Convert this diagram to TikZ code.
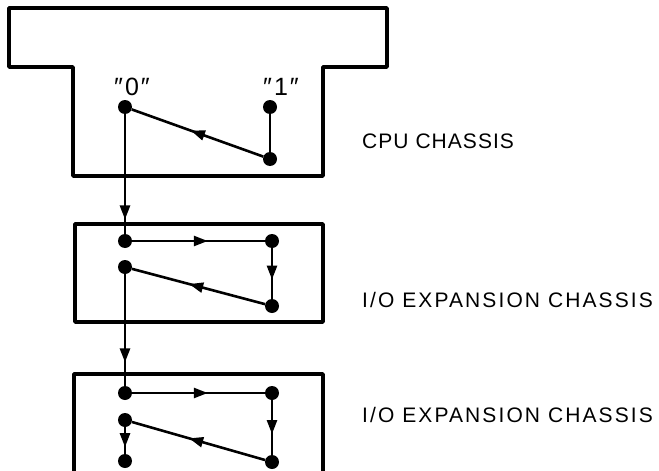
\documentclass[tikz,border=0pt]{standalone}
\usepackage{fontspec}
\setmainfont{Liberation Sans}
\usetikzlibrary{arrows.meta,decorations.markings}
\tikzset{
  chassis/.style={line width=3.6pt, line join=round},
  dot/.style={circle, fill=black, inner sep=0pt, minimum size=14pt},
  wire/.style={line width=2.6pt},
  midarrow/.style={postaction={decorate}, decoration={markings,
      mark=at position #1 with {\arrow{Triangle[length=14pt,width=10pt]}}}},
  lbl/.style={anchor=base west, inner sep=0pt,
      font=\fontsize{21}{25}\selectfont\addfontfeature{LetterSpace=5}},
  widelbl/.style={lbl, font=\fontsize{21}{25}\selectfont\addfontfeature{LetterSpace=10}},
  qlbl/.style={anchor=base, inner sep=0pt, font=\fontsize{25}{29}\selectfont}
}
\begin{document}
\begin{tikzpicture}[x=1pt,y=-1pt]
\useasboundingbox (0,0) rectangle (659,471);
% chassis outlines
\draw[chassis] (9,8) -- (387,8) -- (387,67) -- (323,67) -- (323,176)
   -- (73,176) -- (73,67) -- (9,67) -- cycle;
\draw[chassis] (75,224) rectangle (323,322);
\draw[chassis] (74,471) -- (74,374) -- (323,374) -- (323,471);
% labels
\node[qlbl] (q0) at (132,95) {″\kern2pt0\kern2pt″};
\node[qlbl] (q1) at (281,95) {″\kern2pt1\kern2pt″};
\node[lbl] (l1) at (362,148) {CPU CHASSIS};
\node[widelbl] (l2) at (362,307) {I/O EXPANSION CHASSIS};
\node[widelbl] (l3) at (362,422) {I/O EXPANSION CHASSIS};
% dots
\node[dot] (c0) at (125,107) {};
\node[dot] (c1) at (270,107) {};
\node[dot] (c2) at (270,159) {};
\node[dot] (a0) at (125,241) {};
\node[dot] (a1) at (272,241) {};
\node[dot] (a2) at (272,306) {};
\node[dot] (a3) at (125,267) {};
\node[dot] (b0) at (125,393) {};
\node[dot] (b1) at (272,393) {};
\node[dot] (b2) at (272,462) {};
\node[dot] (b3) at (125,420) {};
\node[dot] (b4) at (125,461) {};
% connectors
\draw[wire] (c1) -- (c2);
\draw[wire, midarrow=0.55] (c2) -- (c0);
\draw[wire, midarrow=0.88] (c0) -- (a0);
\draw[wire, midarrow=0.57] (a0) -- (a1);
\draw[wire, midarrow=0.62] (a1) -- (a2);
\draw[wire, midarrow=0.57] (a2) -- (a3);
\draw[wire, midarrow=0.79] (a3) -- (b0);
\draw[wire, midarrow=0.57] (b0) -- (b1);
\draw[wire, midarrow=0.62] (b1) -- (b2);
\draw[wire, midarrow=0.57] (b2) -- (b3);
\draw[wire, midarrow=0.75] (b3) -- (b4);
\end{tikzpicture}
\end{document}
